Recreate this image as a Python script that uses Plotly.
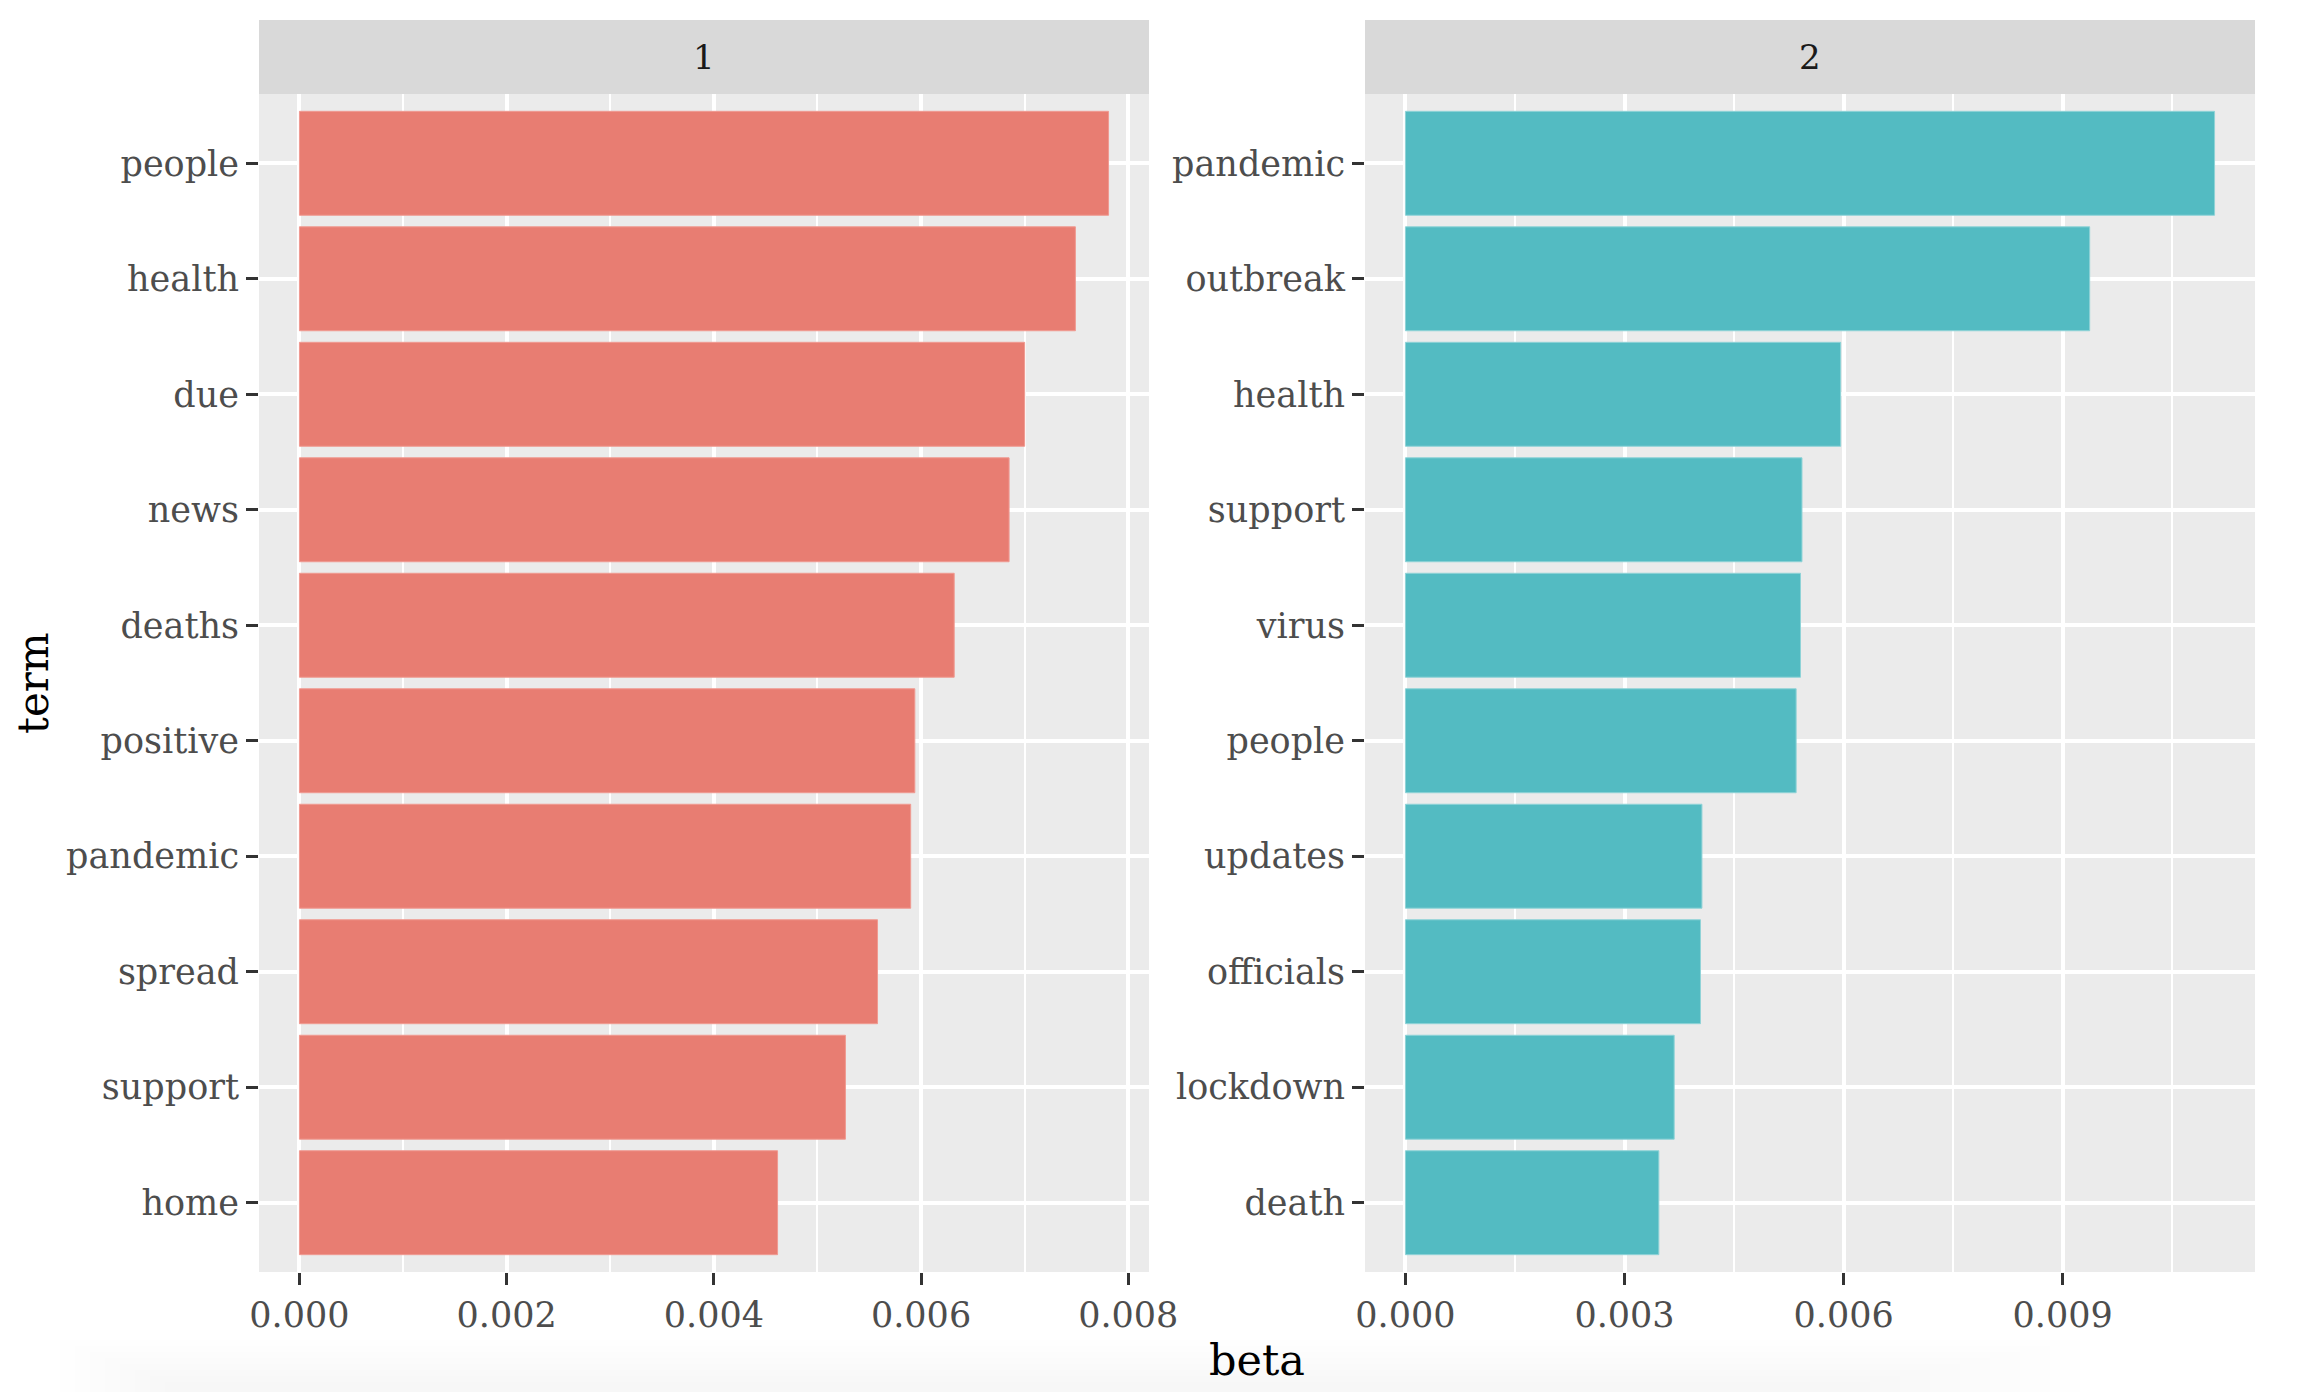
import plotly.graph_objects as go

# ---- data ----
terms_1 = ["people", "health", "due", "news", "deaths", "positive", "pandemic", "spread", "support", "home"]
beta_1 = [0.00781, 0.00749, 0.00700, 0.00685, 0.00632, 0.00594, 0.00590, 0.00558, 0.00527, 0.004615]
terms_2 = ["pandemic", "outbreak", "health", "support", "virus", "people", "updates", "officials", "lockdown", "death"]
beta_2 = [0.01108, 0.00937, 0.00596, 0.00543, 0.00541, 0.00535, 0.00406, 0.00404, 0.00368, 0.00347]
ticks_1 = [0.0, 0.002, 0.004, 0.006, 0.008]
ticks_2 = [0.0, 0.003, 0.006, 0.009]
strip_labels = ["1", "2"]

OFF = 8  # page body margin
W, H = 2322 - 2 * OFF, 1400 - 2 * OFF
FONT = "DejaVu Serif"
col1 = "#E87D72"
col2 = "#53BBC2"
panel_bg = "#EBEBEB"
strip_bg = "#D9D9D9"

# window pixel geometry -> paper fractions
def px(x):
    return (x - OFF) / W

def py(y):
    return 1 - (y - OFF) / H

x1d = [px(259), px(1149)]
x2d = [px(1365), px(2255)]
yd = [py(1272), py(94)]

fig = go.Figure()
fig.add_trace(go.Bar(x=beta_1, y=terms_1, orientation="h", marker=dict(color=col1, line=dict(width=1, color="#F09A91")),
                     width=0.9, xaxis="x", yaxis="y", showlegend=False))
fig.add_trace(go.Bar(x=beta_2, y=terms_2, orientation="h", marker=dict(color=col2, line=dict(width=1, color="#8FD3D7")),
                     width=0.9, xaxis="x2", yaxis="y2", showlegend=False))

m1, m2 = max(beta_1), max(beta_2)
tickfont = dict(family=FONT, size=35, color="#4D4D4D")
common_x = dict(showgrid=True, gridcolor="white", gridwidth=4, zeroline=False, ticks="outside",
                ticklen=12, tickwidth=3, tickcolor="#333333", tickfont=tickfont, automargin=False,
                showline=False)
common_y = dict(type="category", showgrid=True, gridcolor="white", gridwidth=4, zeroline=False,
                ticks="outside", ticklen=12, tickwidth=3, tickcolor="#333333", tickfont=tickfont,
                automargin=False, range=[-0.6, 9.6], showline=False)

fig.update_layout(
    width=W, height=H,
    margin=dict(l=0, r=0, t=0, b=0),
    paper_bgcolor="white",
    plot_bgcolor=panel_bg,
    bargap=0.1,
    xaxis=dict(domain=x1d, anchor="y", range=[-0.05 * m1, 1.05 * m1], tickvals=ticks_1,
               ticktext=[f"{v:.3f}" for v in ticks_1],
               minor=dict(showgrid=True, gridcolor="white", gridwidth=2, tick0=0, dtick=0.001),
               **common_x),
    xaxis2=dict(domain=x2d, anchor="y2", range=[-0.05 * m2, 1.05 * m2], tickvals=ticks_2,
                ticktext=[f"{v:.3f}" for v in ticks_2],
                minor=dict(showgrid=True, gridcolor="white", gridwidth=2, tick0=0.0015, dtick=0.003),
                **common_x),
    yaxis=dict(domain=yd, anchor="x", categoryorder="array", categoryarray=terms_1[::-1], **common_y),
    yaxis2=dict(domain=yd, anchor="x2", categoryorder="array", categoryarray=terms_2[::-1], **common_y),
)

# facet strips
for (xd, lab) in zip([x1d, x2d], strip_labels):
    fig.add_shape(type="rect", xref="paper", yref="paper", x0=xd[0], x1=xd[1], y0=yd[1], y1=py(20),
                  fillcolor=strip_bg, line=dict(width=0), layer="below")
    fig.add_annotation(xref="paper", yref="paper", x=(xd[0] + xd[1]) / 2, y=(yd[1] + py(20)) / 2,
                       text=lab, showarrow=False, xanchor="center", yanchor="middle",
                       font=dict(family=FONT, size=34, color="#1A1A1A"))

# axis titles
fig.add_annotation(xref="paper", yref="paper", x=(x1d[0] + x2d[1]) / 2, y=py(1360), text="beta",
                   showarrow=False, xanchor="center", yanchor="middle",
                   font=dict(family=FONT, size=43, color="black"))
fig.add_annotation(xref="paper", yref="paper", x=px(33), y=(yd[0] + yd[1]) / 2, text="term",
                   showarrow=False, xanchor="center", yanchor="middle", textangle=-90,
                   font=dict(family=FONT, size=42, color="black"))

# faint bottom shadow (screenshot artefact)
for i in range(8):
    fig.add_shape(type="rect", xref="paper", yref="paper", x0=px(60 + i * 15), x1=px(2080 - i * 30),
                  y0=0, y1=py(1340 + i * 6), fillcolor="#888888", opacity=0.012,
                  line=dict(width=0), layer="below")

fig.write_html("out.html")
